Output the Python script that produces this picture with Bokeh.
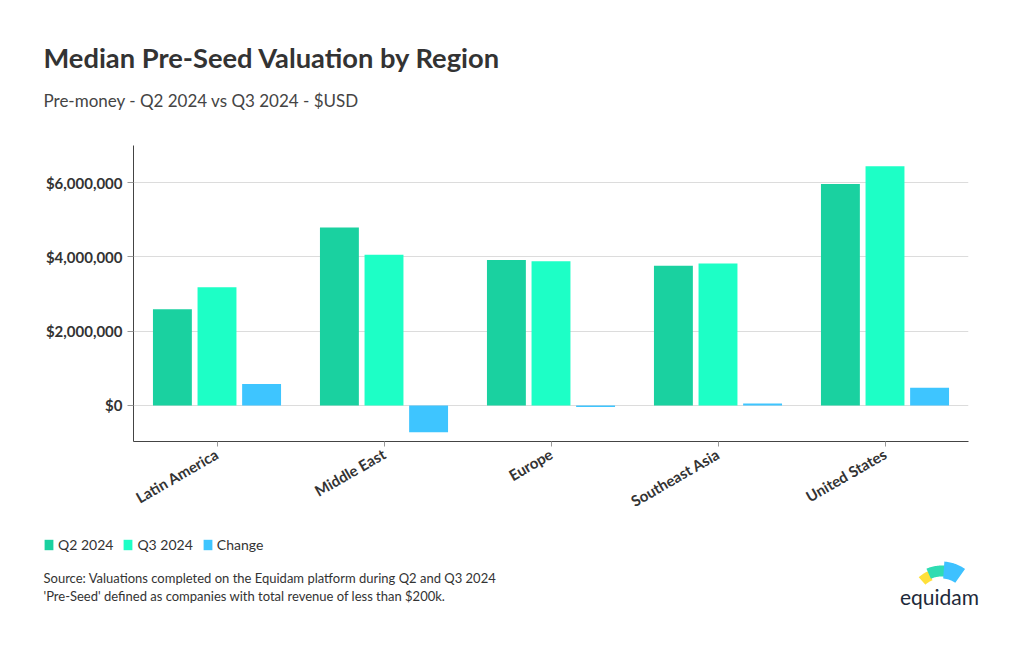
import math
import numpy as np
from bokeh.plotting import figure
from bokeh.layouts import column
from bokeh.models import (ColumnDataSource, FactorRange, Range1d, Legend, LegendItem,
                          NumeralTickFormatter, FixedTicker)
from bokeh.core.properties import value
from bokeh.transform import dodge
from bokeh.embed import file_html
from bokeh.resources import INLINE

# ---------------- data ----------------
regions = ["Latin America", "Middle East", "Europe", "Southeast Asia", "United States"]
q2_2024 = [2590000, 4790000, 3920000, 3760000, 5960000]
q3_2024 = [3180000, 4060000, 3880000, 3820000, 6440000]
change = [580000, -720000, -40000, 55000, 480000]
series_names = ["Q2 2024", "Q3 2024", "Change"]
y_ticks = [0, 2000000, 4000000, 6000000]

title_text = "Median Pre-Seed Valuation by Region"
subtitle_text = "Pre-money - Q2 2024 vs Q3 2024 - $USD"
source_lines = ["Source: Valuations completed on the Equidam platform during Q2 and Q3 2024",
                "'Pre-Seed' defined as companies with total revenue of less than $200k."]
brand = "equidam"

# ---------------- style ----------------
FONT = "Lato"
colors = ["#1ad1a0", "#1dffc6", "#3ec5ff"]
text_dark = "#333333"

W = 1020
HEAD_H, MAIN_H, FOOT_H = 145, 375, 130
FL, FR = 133, 968          # frame left/right (page px)
FRAME_H = 296              # frame height (page px 145 -> 441)


def panel(height):
    """Figure used as a pixel-space canvas for header / footer texts."""
    fig = figure(width=W, height=height, x_range=Range1d(0, W), y_range=Range1d(height, 0),
                 output_backend="svg", toolbar_location=None, x_axis_type=None,
                 y_axis_type=None, min_border=0)
    fig.outline_line_color = None
    fig.grid.visible = False
    fig.background_fill_color = "white"
    fig.border_fill_color = "white"
    fig.frame_align = False
    return fig


# ---------------- header ----------------
h = panel(HEAD_H)
h.text(x=[43], y=[57], text=[title_text], text_font=value(FONT), text_font_style="bold",
       text_font_size="27.3px", text_color=text_dark, text_baseline="middle")
h.text(x=[43], y=[100], text=[subtitle_text], text_font=value(FONT),
       text_font_size="17px", text_color="#444444", text_baseline="middle")

# ---------------- main chart ----------------
src = ColumnDataSource(dict(region=regions, q2=q2_2024, q3=q3_2024, chg=change))

p = figure(width=W, height=MAIN_H, x_range=FactorRange(factors=regions),
           y_range=Range1d(-970000, 7000000), output_backend="svg",
           toolbar_location=None, min_border_left=FL, min_border_right=W - FR,
           min_border_top=0, min_border_bottom=MAIN_H - FRAME_H)
p.outline_line_color = None
p.background_fill_color = "white"
p.border_fill_color = "white"
p.frame_align = False

bar_w = 0.233
offs = [-0.267, 0.0, 0.267]
for col, off, c in zip(["q2", "q3", "chg"], offs, colors):
    p.vbar(x=dodge("region", off, range=p.x_range), top=col, bottom=0,
           width=bar_w, source=src, fill_color=c, line_color=None)

p.xgrid.grid_line_color = None
p.ygrid.grid_line_color = "#dcdcdc"
p.ygrid.grid_line_width = 1
p.yaxis.ticker = FixedTicker(ticks=y_ticks)
p.yaxis.formatter = NumeralTickFormatter(format="$0,0")
for ax in (p.xaxis[0], p.yaxis[0]):
    ax.axis_line_color = "#444444"
    ax.major_tick_line_color = "#999999"
    ax.major_tick_in = 0
    ax.minor_tick_line_color = None
    ax.major_label_text_font = FONT
    ax.major_label_text_font_style = "bold"
    ax.major_label_text_font_size = "15px"
    ax.major_label_text_color = text_dark
p.yaxis.major_tick_out = 6
p.yaxis.major_label_standoff = 5
p.xaxis.major_tick_out = 5
p.xaxis.major_label_orientation = math.pi / 6
p.xaxis.major_label_standoff = 6

# ---------------- footer: legend, source notes, logo ----------------
f = panel(FOOT_H)

# legend proxies: same colours as the bars, placed far outside the visible ranges
proxy = ColumnDataSource(dict(x=[5000], top=[5001]))
legend_items = []
for name, c in zip(series_names, colors):
    r = f.vbar(x="x", top="top", bottom=5000, width=1, source=proxy, fill_color=c,
               line_color=None)
    legend_items.append(LegendItem(label=name, renderers=[r]))
legend = Legend(items=legend_items, orientation="horizontal", location=(43, 97),
                glyph_width=11, glyph_height=13, label_standoff=4, spacing=9,
                padding=0, margin=0, border_line_color=None, background_fill_alpha=0,
                label_text_font=FONT, label_text_font_size="14px", label_text_color=text_dark)
f.add_layout(legend)

notes_src = ColumnDataSource(dict(x=[43, 43], y=[57, 75], t=source_lines))
f.text(x="x", y="y", text="t", source=notes_src, text_font=value(FONT),
       text_font_size="13px", text_color=text_dark, text_baseline="middle")

# logo (decorative fan of three wedges + wordmark)
cx, cy = 941, 82
logo_parts = [("#ffe03a", 112, 132, 24, 34), ("#2fdcb2", 84, 114, 26, 37), ("#3ec1ff", 55, 86, 24, 41)]
lx, ly, lc = [], [], []
for c, a0, a1, r0, r1 in logo_parts:
    t = np.radians(np.linspace(a0, a1, 20))
    lx.append(list(np.concatenate([cx + r1 * np.cos(t), cx + r0 * np.cos(t[::-1])])))
    ly.append(list(np.concatenate([cy - r1 * np.sin(t), cy - r0 * np.sin(t[::-1])])))
    lc.append(c)
f.patches(xs=lx, ys=ly, fill_color=lc, line_color=None)
f.text(x=[939], y=[76], text=[brand], text_font=value(FONT), text_font_size="21px",
       text_color="#1e2a3a", text_align="center", text_baseline="middle")

layout = column(h, p, f, spacing=0)
open("out.html", "w").write(file_html(layout, INLINE))
